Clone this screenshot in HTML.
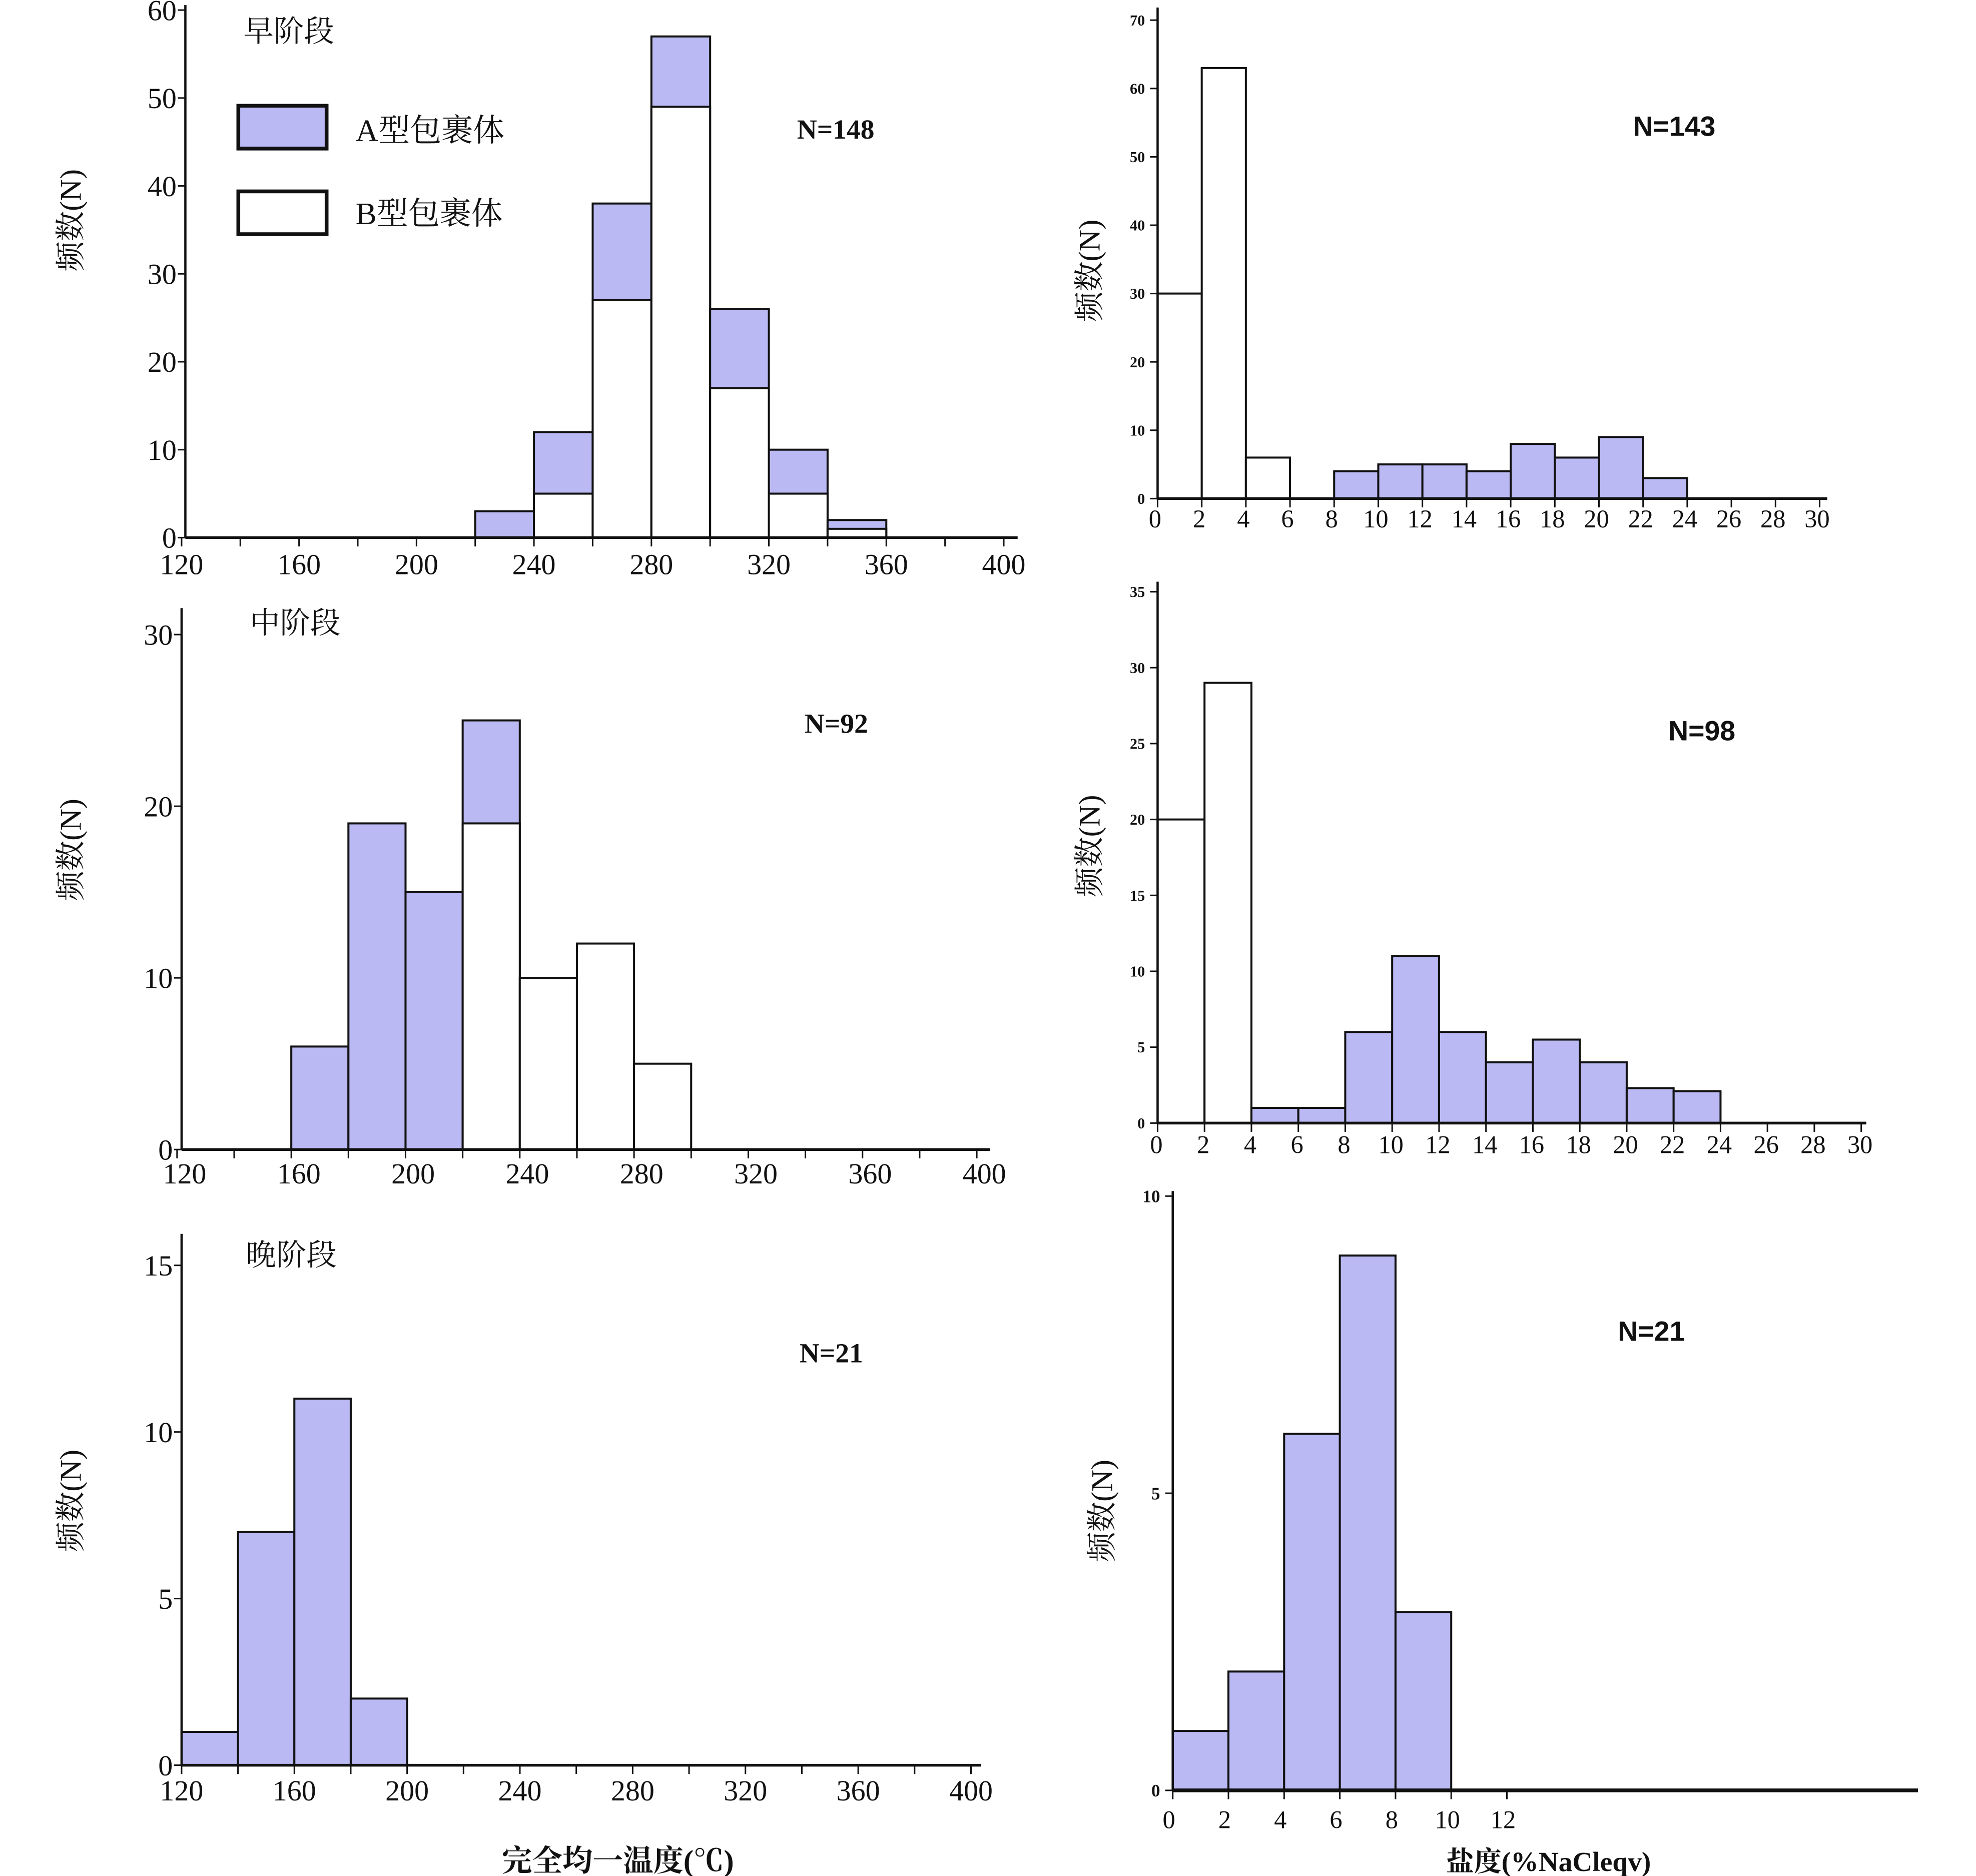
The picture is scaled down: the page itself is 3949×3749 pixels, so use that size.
<!DOCTYPE html>
<html><head><meta charset="utf-8"><style>
html,body{margin:0;padding:0;background:#fff;}
svg{display:block;}
text{font-family:"Liberation Serif","Noto Serif CJK SC",serif;fill:#111;}
.cjk{font-family:"Liberation Serif","Noto Serif CJK SC",serif;}
.sans{font-family:"Liberation Sans","Noto Sans CJK SC",sans-serif;font-weight:bold;}
</style></head><body>
<svg id="chart" width="3949" height="3749" viewBox="0 0 1567 1490" preserveAspectRatio="none" xmlns="http://www.w3.org/2000/svg"></svg>
<script>
// ---- data ----
const earlyBins = [220,240,260,280,300,320,340];
const earlyTotal = [3,12,38,57,26,10,2];
const earlyB = [0,5,27,49,17,5,1];
const midBins = [160,180,200,220,240,260,280];
const midTotal = [6,19,15,25,10,12,5];
const midB = [0,0,0,19,10,12,5];
const lateBins = [120,140,160,180];
const lateTotal = [1,7,11,2];
const lateB = [0,0,0,0];
const sal1Bins = [0,2,4,8,10,12,14,16,18,20,22];
const sal1Total = [30,63,6,4,5,5,4,8,6,9,3];
const sal1B = [30,63,6,0,0,0,0,0,0,0,0];
const sal2Bins = [0,2,4,6,8,10,12,14,16,18,20,22];
const sal2Total = [20,29,1,1,6,11,6,4,5.5,4,2.3,2.1];
const sal2B = [20,29,0,0,0,0,0,0,0,0,0,0];
const sal3Bins = [0,2,4,6,8];
const sal3Total = [1,2,6,9,3];
const sal3B = [0,0,0,0,0];
const tempTicks = [120,160,200,240,280,320,360,400];
const salTicks = [0,2,4,6,8,10,12,14,16,18,20,22,24,26,28,30];
const sal3Ticks = [0,2,4,6,8,10,12];
const earlyY = [0,10,20,30,40,50,60];
const midY = [0,10,20,30];
const lateY = [0,5,10,15];
const sal1Y = [0,10,20,30,40,50,60,70];
const sal2Y = [0,5,10,15,20,25,30,35];
const sal3Y = [0,5,10];

const svg = document.getElementById('chart');
const NS = 'http://www.w3.org/2000/svg';
function mk(tag, attrs, parent){const e=document.createElementNS(NS,tag);for(const k in attrs)e.setAttribute(k,attrs[k]);(parent||svg).appendChild(e);return e;}
const FILL='#bab9f3';

function panel(cfg){
  const g=mk('g',{});
  
  
  const sx=v=>cfg.px0+(v-cfg.x0)/(cfg.x1-cfg.x0)*(cfg.px1-cfg.px0);
  const sy=v=>cfg.py0-(v/cfg.ymax)*(cfg.py0-cfg.pyMax);
  cfg.bins.forEach((b,i)=>{
    const xl=sx(b), xr=sx(b+cfg.bw);
    const t=cfg.total[i], bb=cfg.bpart[i];
    if(t>bb){
      const r=mk('rect',{x:xl,y:sy(t),width:xr-xl,height:sy(0)-sy(t),fill:FILL,stroke:'#111','stroke-width':1.6},g);
      
      
    }
    if(bb>0){
      const r=mk('rect',{x:xl,y:sy(bb),width:xr-xl,height:sy(0)-sy(bb),fill:'#fff',stroke:'#111','stroke-width':1.6},g);
      
      
    }
  });
  const ya=mk('line',{x1:cfg.axX,y1:cfg.axTop,x2:cfg.axX,y2:cfg.py0,stroke:'#111','stroke-width':1.8},g);
  
  
  const xa=mk('line',{x1:cfg.axX,y1:cfg.py0,x2:cfg.axRight,y2:cfg.py0,stroke:'#111','stroke-width':cfg.xw||2.2},g);
  
  
  for(let v=cfg.x0; v<=cfg.tickMax+1e-9; v+=cfg.bw){
    mk('line',{x1:sx(v),y1:cfg.py0,x2:sx(v),y2:cfg.py0+7,stroke:'#111','stroke-width':1.2},g);
  }
  cfg.xticks.forEach(v=>{
    const t=mk('text',{x:sx(v)+(cfg.xdx||0),y:cfg.py0+cfg.xly,'font-size':cfg.xfs,'text-anchor':'middle','font-weight':cfg.xbold?'bold':'normal'},g);
    t.textContent=v;
    
    
  });
  cfg.yticks.forEach(v=>{
    mk('line',{x1:cfg.axX-6,y1:sy(v),x2:cfg.axX,y2:sy(v),stroke:'#111','stroke-width':1.2},g);
    const t=mk('text',{x:cfg.axX-cfg.ylx,y:sy(v)+cfg.yfs*0.35,'font-size':cfg.yfs,'text-anchor':'end','font-weight':cfg.ybold?'bold':'normal'},g);
    t.textContent=v;
    
    
  });
  const yt=mk('text',{x:0,y:0,'font-size':24,'text-anchor':'middle',transform:`translate(${cfg.ytx},${cfg.yty}) rotate(-90)`,class:'cjk'},g);
  yt.textContent='频数(N)';
  
  
  const n=mk('text',{x:cfg.nx,y:cfg.ny,'font-size':22,'font-weight':'bold',class:cfg.nSans?'sans':''},g);
  n.textContent=cfg.nText;
  
  
  if(cfg.stage){
    const s=mk('text',{x:cfg.stx,y:cfg.sty,'font-size':24,class:'cjk'},g);
    s.textContent=cfg.stage;
    
    
  }
}

panel({name:'early-stage-temperature',bins:earlyBins,total:earlyTotal,bpart:earlyB,bw:20,x0:120,x1:400,px0:144,px1:796,ymax:60,py0:427,pyMax:8,axX:147,axTop:4,axRight:807,tickMax:400,xticks:tempTicks,xly:29,xfs:23,yticks:earlyY,ylx:7,yfs:23,ytx:64,yty:175,nx:632,ny:110,nText:'N=148',stage:'早阶段',stx:193,sty:33});
panel({name:'middle-stage-temperature',bins:midBins,total:midTotal,bpart:midB,bw:20,x0:120,x1:400,px0:140.4,px1:774.6,ymax:30,py0:913,pyMax:504,axX:144,axTop:483,axRight:785,tickMax:400,xticks:tempTicks,xly:27,xfs:23,xdx:6,yticks:midY,ylx:7,yfs:23,ytx:64,yty:675,nx:638,ny:582,nText:'N=92',stage:'中阶段',stx:198,sty:503});
panel({name:'late-stage-temperature',bins:lateBins,total:lateTotal,bpart:lateB,bw:20,x0:120,x1:400,px0:144,px1:770,ymax:15,py0:1402,pyMax:1005,axX:144,axTop:980,axRight:778,tickMax:400,xticks:tempTicks,xly:28,xfs:23,yticks:lateY,ylx:7,yfs:23,ytx:64,yty:1192,nx:634,ny:1082,nText:'N=21',stage:'晚阶段',stx:195,sty:1005});
panel({name:'early-stage-salinity',bins:sal1Bins,total:sal1Total,bpart:sal1B,bw:2,x0:0,x1:30,px0:918,px1:1443,ymax:70,py0:396,pyMax:16,axX:918,axTop:6,axRight:1449,tickMax:30,xticks:salTicks,xly:23,xfs:20,xdx:-2,yticks:sal1Y,ylx:10,yfs:12,ybold:true,ytx:872,yty:215,nx:1295,ny:108,nText:'N=143',nSans:true});
panel({name:'middle-stage-salinity',bins:sal2Bins,total:sal2Total,bpart:sal2B,bw:2,x0:0,x1:30,px0:918,px1:1476,ymax:35,py0:892,pyMax:470,axX:918,axTop:462,axRight:1480,tickMax:30,xticks:salTicks,xly:24,xfs:20,xdx:-1,yticks:sal2Y,ylx:10,yfs:12,ybold:true,ytx:872,yty:672,nx:1323,ny:588,nText:'N=98',nSans:true});
panel({name:'late-stage-salinity',bins:sal3Bins,total:sal3Total,bpart:sal3B,bw:2,x0:0,x1:12,px0:930,px1:1195,ymax:10,py0:1422,pyMax:950,axX:930,axTop:946,axRight:1521,tickMax:12,xw:3,xticks:sal3Ticks,xly:30,xfs:20,xdx:-3,yticks:sal3Y,ylx:10,yfs:14,ybold:true,ytx:882,yty:1200,nx:1283,ny:1065,nText:'N=21',nSans:true});

const lg=mk('g',{});


const la=mk('rect',{x:189,y:84,width:70,height:34,fill:FILL,stroke:'#111','stroke-width':3},lg);


const ta=mk('text',{x:282,y:112,'font-size':25,class:'cjk'},lg);ta.textContent='A型包裹体';


const lb=mk('rect',{x:189,y:152,width:70,height:34,fill:'#fff',stroke:'#111','stroke-width':3},lg);


const tb=mk('text',{x:282,y:178,'font-size':25,class:'cjk'},lg);tb.textContent='B型包裹体';



const xt1=mk('text',{x:490,y:1486,'font-size':24,'text-anchor':'middle','font-weight':'bold',class:'cjk'});
xt1.textContent='完全均一温度(℃)';


const xt2=mk('text',{x:1228,y:1486,'font-size':22,'text-anchor':'middle','font-weight':'bold',class:'cjk'});
xt2.textContent='盐度(%NaCleqv)';


</script>
</body></html>
